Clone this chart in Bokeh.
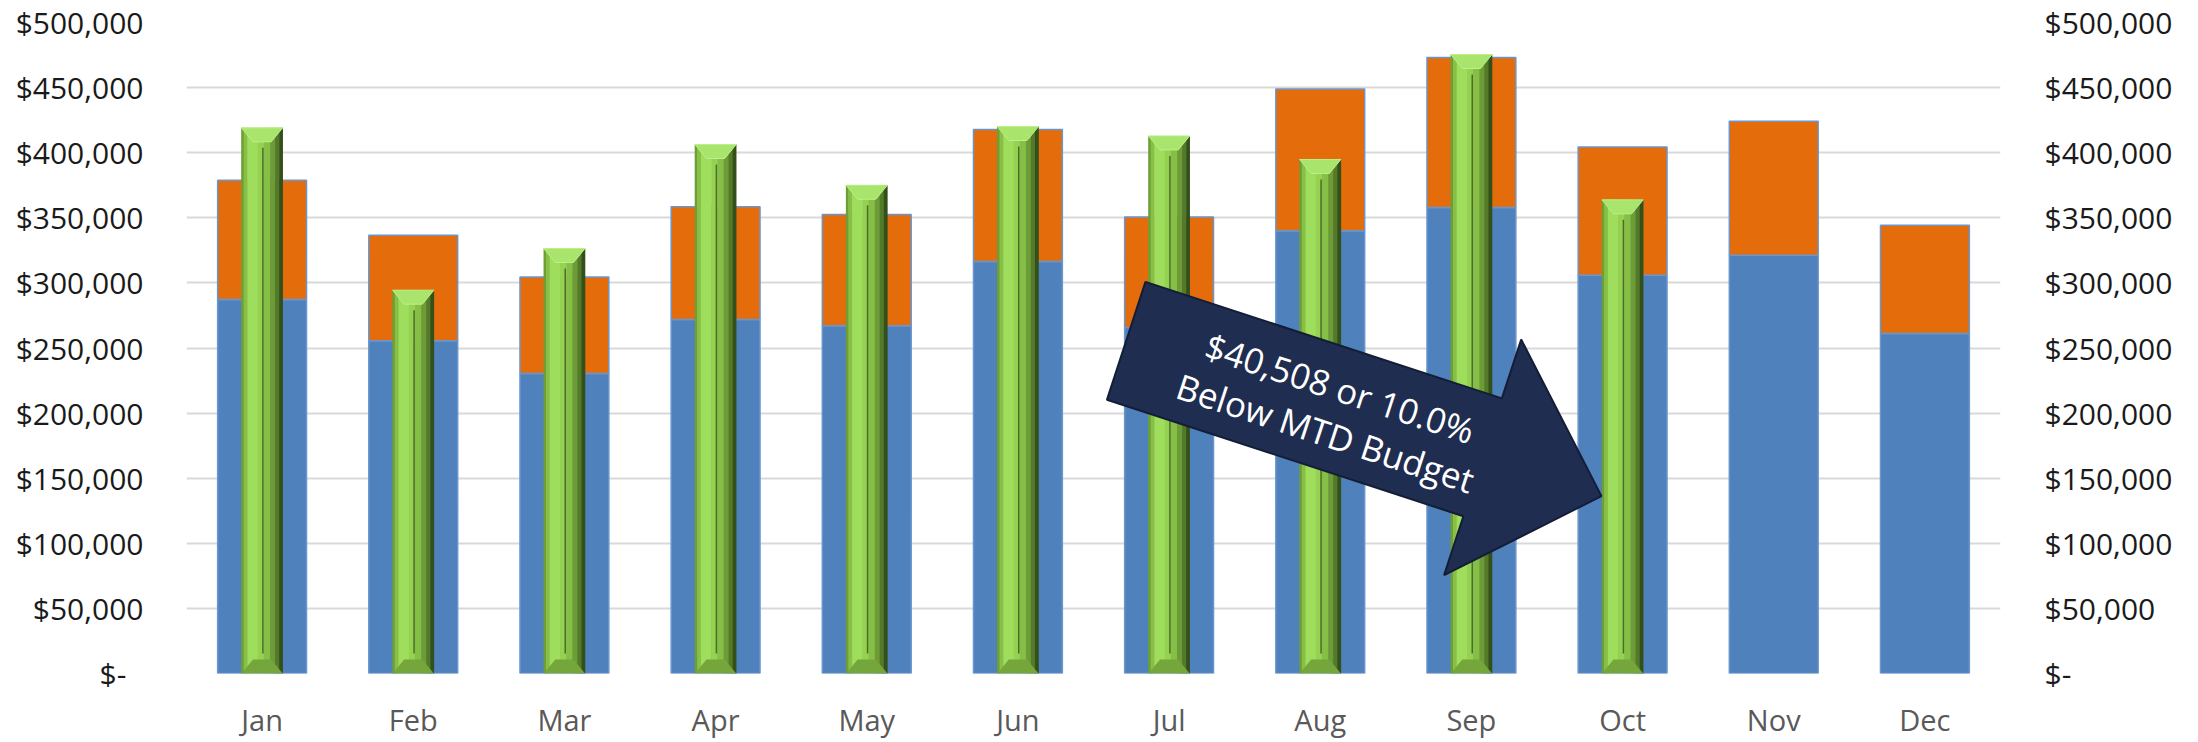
import numpy as np
from bokeh.plotting import figure
from bokeh.models import Range1d, LinearAxis, FixedTicker, CustomJSTickFormatter
from bokeh.core.properties import value
from bokeh.embed import file_html
from bokeh.resources import INLINE

# ---------------- data ----------------
months = ["Jan", "Feb", "Mar", "Apr", "May", "Jun", "Jul", "Aug", "Sep", "Oct", "Nov", "Dec"]
base_values = [287300, 255500, 230400, 271900, 267000, 316400, 265700, 340000, 357900, 305900, 321300, 261100]
budget_values = [378900, 336600, 304600, 358400, 352500, 417800, 350700, 449000, 473100, 404300, 424200, 344300]
actual_values = [419100, 294400, 326400, 406300, 375000, 420100, 412900, 394800, 475400, 363792]
y_ticks = [0, 50000, 100000, 150000, 200000, 250000, 300000, 350000, 400000, 450000, 500000]
note_lines = ["$40,508 or 10.0%", "Below MTD Budget"]

# ---------------- layout constants ----------------
W, H = 2182, 742
FW, FH = 1814, 651
BL, BT = 186, 22
BR, BB = W - BL - FW, H - BT - FH
YMAX = 500000
PXX = 12.0 / FW          # data units per pixel (x)
PXY = YMAX / FH          # data units per pixel (y)

FONT = "Open Sans"
BLUE = "#4f81bd"
ORANGE = "#e46c0a"
EDGE = "#6a96cc"

x_all = np.arange(len(months)) + 0.5
x_act = x_all[:len(actual_values)]
act = np.array(actual_values, dtype=float)

p = figure(width=W, height=H, x_range=Range1d(0, 12), y_range=Range1d(0, YMAX),
           output_backend="svg", toolbar_location=None,
           min_border_left=BL, min_border_right=BR, min_border_top=BT, min_border_bottom=BB)
p.outline_line_color = None
p.background_fill_color = "white"
p.border_fill_color = "white"
p.xgrid.grid_line_color = None
p.ygrid.grid_line_color = "#d9d9d9"
p.ygrid.grid_line_width = 2
p.ygrid.ticker = FixedTicker(ticks=y_ticks)

yfmt = CustomJSTickFormatter(code="""
if (tick == 0) { return "$-\\u2007"; }
return "$" + Math.round(tick).toLocaleString("en-US");
""")

def style_axis(ax, color, standoff, size):
    ax.axis_line_color = None
    ax.major_tick_line_color = None
    ax.minor_tick_line_color = None
    ax.major_tick_in = 0
    ax.major_tick_out = 0
    ax.major_label_standoff = standoff
    ax.major_label_text_font = FONT
    ax.major_label_text_font_size = size
    ax.major_label_text_color = color

p.yaxis.ticker = FixedTicker(ticks=y_ticks)
p.yaxis.formatter = yfmt
style_axis(p.yaxis[0], "#1a1a1a", 43, "30px")

right = LinearAxis(ticker=FixedTicker(ticks=y_ticks), formatter=yfmt)
style_axis(right, "#1a1a1a", 44, "30px")
p.add_layout(right, "right")

p.xaxis.ticker = FixedTicker(ticks=list(x_all))
p.xaxis.formatter = CustomJSTickFormatter(args=dict(months=months),
                                          code="return months[Math.floor(tick)];")
style_axis(p.xaxis[0], "#595959", 26, "29px")

# ---------------- stacked budget bars ----------------
BW = 0.588
p.vbar(x=x_all, width=BW, bottom=0, top=base_values, fill_color=BLUE, line_color=EDGE, line_width=1.5)
p.vbar(x=x_all, width=BW, bottom=base_values, top=budget_values, fill_color=ORANGE,
       line_color=EDGE, line_width=1.5)

# ---------------- bevelled green actual bars ----------------
GW = 0.273
grad = [(0.00, 0.06, "#6e9e35"), (0.06, 0.15, "#88c047"), (0.15, 0.40, "#9fdd5c"),
        (0.40, 0.55, "#95d251"), (0.55, 0.70, "#86bf46"), (0.70, 0.82, "#6d9b38"),
        (0.82, 0.92, "#527a28"), (0.92, 1.00, "#34501a")]
for f0, f1, c in grad:
    p.vbar(x=x_act - GW / 2 + (f0 + f1) / 2 * GW, width=(f1 - f0) * GW + 0.5 * PXX,
           bottom=0, top=act, fill_color=c, line_color=None)

depth = 14 * PXY
xl, xr = x_act - GW / 2, x_act + GW / 2
inner = 0.22 * GW
top_xs = [[a, b, c + inner, c - inner] for a, b, c in zip(xl, xr, x_act)]
top_ys = [[t, t, t - depth, t - depth] for t in act]
p.patches(top_xs, top_ys, fill_color="#a9e46c", line_color="#bdf08a", line_width=1)
bot_ys = [[0, 0, depth, depth] for t in act]
p.patches(top_xs, bot_ys, fill_color="#74a63b", line_color=None)
p.segment(x0=x_act + 0.02 * GW, y0=20 * PXY, x1=x_act + 0.02 * GW, y1=act - 20 * PXY,
          line_color="#4b6d2a", line_width=1.5)

# ---------------- arrow callout ----------------
tail = np.array([939.7, 318.3])          # frame pixels from top-left
ang = np.deg2rad(18.1)
d = np.array([np.cos(ang), np.sin(ang)])
n = np.array([-np.sin(ang), np.cos(ang)])
shaft_len, shaft_half, head_len, head_half = 375, 62, 125, 124
local = [(0, -shaft_half), (shaft_len, -shaft_half), (shaft_len, -head_half),
         (shaft_len + head_len, 0), (shaft_len, head_half), (shaft_len, shaft_half), (0, shaft_half)]

def to_data(pt):
    return pt[0] * PXX, (FH - pt[1]) * PXY

pts = [to_data(tail + u * d + v * n) for u, v in local]
p.patch([q[0] for q in pts], [q[1] for q in pts], fill_color="#1f2d50",
        line_color="#141d36", line_width=2)

tx, ty = [], []
for v in (2 - 23.5, 2 + 23.5):
    q = to_data(tail + 218 * d + v * n)
    tx.append(q[0]); ty.append(q[1])
p.text(x=tx, y=ty, text=note_lines, angle=-ang, text_align="center", text_baseline="middle",
       text_font=value(FONT), text_font_size=value("35px"), text_color="white")

open("out.html", "w").write(file_html(p, INLINE))
